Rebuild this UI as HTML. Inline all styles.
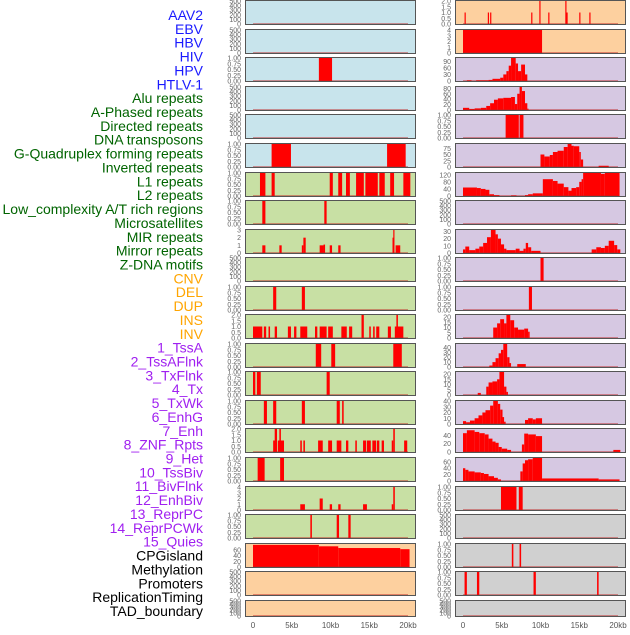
<!DOCTYPE html>
<html><head><meta charset="utf-8">
<style>
body{margin:0;background:#fff;width:630px;height:630px;overflow:hidden;font-family:"Liberation Sans",sans-serif;}
svg text{font-family:"Liberation Sans",sans-serif;}
</style></head>
<body>
<svg id="chart" width="630" height="630" viewBox="0 0 630 630" xmlns="http://www.w3.org/2000/svg"></svg>
<script>
const trackLabels = ["AAV2","EBV","HBV","HIV","HPV","HTLV-1","Alu repeats","A-Phased repeats","Directed repeats","DNA transposons","G-Quadruplex forming repeats","Inverted repeats","L1 repeats","L2 repeats","Low_complexity A/T rich regions","Microsatellites","MIR repeats","Mirror repeats","Z-DNA motifs","CNV","DEL","DUP","INS","INV","1_TssA","2_TssAFlnk","3_TxFlnk","4_Tx","5_TxWk","6_EnhG","7_Enh","8_ZNF_Rpts","9_Het","10_TssBiv","11_BivFlnk","12_EnhBiv","13_ReprPC","14_ReprPCWk","15_Quies","CPGisland","Methylation","Promoters","ReplicationTiming","TAD_boundary"];
const labelColors = [].concat(Array(6).fill("#1a1aff"),Array(13).fill("#006400"),Array(5).fill("#ffa500"),Array(15).fill("#a020f0"),Array(5).fill("#000000"));
const xTicks = [0,5,10,15,20];
const xTickLabels = ["0","5kb","10kb","15kb","20kb"];
const tickSets = {
 E:{max:500,vals:[0,100,200,300,400,500],labs:["0","100","200","300","400","500"]},
 U:{max:1,vals:[0,0.25,0.5,0.75,1],labs:["0.00","0.25","0.50","0.75","1.00"]},
 T:{max:2,vals:[0,0.5,1,1.5,2],labs:["0.0","0.5","1.0","1.5","2.0"]},
 F:{max:4,vals:[0,1,2,3,4],labs:["0","1","2","3","4"]},
 H:{max:3,vals:[0,1,2,3],labs:["0","1","2","3"]}
};
// left column segments [startKb,endKb,value]
const leftSeries = [
 [],[],[[8.5,10.2,1]],[],[],[[2.4,4.9,1],[17.3,19.7,1]],
 [[0.9,1.6,1],[2.4,2.8,1],[9.9,10.3,1],[11,11.5,1],[12,12.5,1],[13.3,14.3,1],[14.5,16.1,1],[16.3,17,1],[17.7,18.2,1],[19.4,20.3,1]],
 [[1.2,1.6,1],[9.2,9.5,1]],
 [[1.2,1.6,1],[3.4,3.7,1],[6.3,6.5,1],[6.5,6.8,2],[8.6,9.1,1],[9.1,9.3,1.1],[9.9,10.2,1],[11,11.3,1],[18,18.2,2],[18.1,18.2,3],[18.4,19,1]],
 [],
 [[2.6,3.0,1],[6.3,6.7,1]],
 [[0,1.2,1],[1.4,1.7,1],[2,2.2,1],[2.8,3.1,1],[4.5,4.9,1],[5.3,5.6,1],[6.1,7,1],[8,8.3,1],[8.6,9.5,1],[9.7,10.3,1],[11.4,12.1,1],[12.4,12.8,1],[14,14.3,2],[15,15.2,1],[15.5,15.7,1],[15.9,16.3,1],[17.4,17.8,1],[18.3,19.4,1],[18.5,18.7,2]],
 [[8.1,8.8,1],[10.1,10.6,1],[18.1,19.2,1]],
 [[0,0.3,1],[0.5,1.0,1],[9.5,9.9,1]],
 [[1.4,1.8,1],[2.6,3.0,1],[6.3,6.7,1],[10.8,11.2,1],[11.5,11.7,1]],
 [[2.6,3.0,1],[2.8,3.1,2],[3.2,4,1],[3.4,3.6,2],[6.1,6.3,1],[6.5,6.7,1],[8.4,9,1],[9.7,10.2,1],[10.8,11.4,1],[12,12.3,1],[13.2,13.4,1],[14.2,14.6,1],[14.7,15.2,1],[15.4,15.9,1],[16,16.3,1],[16.6,16.9,1],[17.9,18.1,1],[18.1,18.3,2],[19.5,19.9,1]],
 [[0.6,1.5,1],[3.5,4.0,1]],
 [[6.1,6.7,1],[8.6,9,2],[9.9,10.2,1],[11,11.3,1],[14.2,14.7,1],[17.9,18.1,1],[18.1,18.3,4]],
 [[7.4,7.6,1],[10.8,11.1,1],[12.3,12.6,1]],
 [[0,8.5,77],[8.5,11,72],[11,19,66],[19,20.2,62]],
 [],[]
];
const leftTicks = ["E","E","U","E","E","U","U","U","H","E","U","T","U","U","U","T","U","F","U",
 {max:80,vals:[0,20,40,60],labs:["0","20","40","60"]},"E","E"];
const leftBg = ["#c8e4ec","#c8e4ec","#c8e4ec","#c8e4ec","#c8e4ec","#c8e4ec","#c8e0a4","#c8e0a4","#c8e0a4","#c8e0a4","#c8e0a4","#c8e0a4","#c8e0a4","#c8e0a4","#c8e0a4","#c8e0a4","#c8e0a4","#c8e0a4","#c8e0a4","#fdd09f","#fdd09f","#fdd09f"];
const rightSeries = [
 [[0.2,0.35,1],[3.2,3.35,1],[3.5,3.65,1],[8.8,8.95,1],[9.85,10.0,2],[11.0,11.15,1],[13.2,13.35,2],[13.35,13.5,1],[15.0,15.15,1],[16.3,16.45,1]],
 [[0,10.2,4]],
 [[0.5,1.1,3],[1.7,3.3,3],[3.3,3.8,5],[3.8,4.8,10],[4.8,5.2,15],[5.2,5.6,30],[5.6,5.9,45],[5.9,6.2,70],[6.2,6.8,105],[6.8,7.1,80],[7.1,7.5,45],[7.5,8.0,75],[8.0,8.3,30]],
 [[0,0.8,8],[0.8,1.5,4],[1.5,2.3,6],[2.3,3.0,8],[3.0,3.5,15],[3.5,4.0,25],[4.0,4.5,38],[4.5,5.2,43],[5.2,6.2,45],[6.2,6.7,48],[6.7,7.0,22],[7.0,7.3,60],[7.3,7.6,85],[7.6,8.0,70],[8.0,8.3,25],[8.3,8.4,5]],
 [[5.5,7.2,1],[7.3,7.8,1]],
 [[10.0,10.5,50],[10.5,11.2,42],[11.2,11.6,48],[11.6,12.2,60],[12.2,13.0,65],[13.0,13.5,80],[13.5,14.0,92],[14.0,14.3,85],[14.3,15.0,83],[15.0,15.2,60],[15.2,15.5,30],[17.5,18.8,5]],
 [[0,1.8,48],[1.8,2.3,45],[2.3,2.9,40],[2.9,3.4,35],[3.4,4.0,10],[4.0,4.7,5],[6.2,6.9,3],[8.0,8.4,5],[8.4,9.0,10],[9.0,10.3,15],[10.3,11.6,95],[11.6,12.2,85],[12.2,13.0,70],[13.0,13.6,50],[13.6,14.0,30],[14.0,14.6,45],[14.6,15.0,50],[15.0,15.3,80],[15.3,15.5,95],[15.5,17.8,130],[17.8,18.3,125],[18.3,20.2,130]],
 [],
 [[0,0.3,5],[0.3,0.8,9],[0.8,1.6,4],[1.6,2.1,6],[2.1,2.6,9],[2.6,3.1,14],[3.1,3.6,22],[3.6,4.2,32],[4.2,4.5,26],[4.5,4.9,20],[4.9,5.3,12],[5.3,5.6,6],[5.6,6.8,4],[6.8,7.3,6],[7.3,7.8,3],[7.8,8.1,6],[8.1,8.4,14],[8.4,8.8,8],[8.8,10.0,3],[16.6,17.2,5],[17.2,17.8,8],[17.8,18.3,7],[18.3,18.8,10],[18.8,19.5,17],[19.5,19.9,11],[19.9,20.3,5]],
 [[10.0,10.4,1]],
 [[8.5,8.9,1]],
 [[3.9,4.4,10],[4.4,4.8,14],[4.8,5.3,18],[5.3,5.6,14],[5.6,6.1,22],[6.1,6.6,17],[6.6,7.1,10],[7.1,7.9,8],[7.9,8.4,9],[8.4,8.6,6]],
 [[3.4,3.8,3],[3.8,4.2,10],[4.2,4.6,18],[4.6,4.9,28],[4.9,5.2,35],[5.2,5.7,47],[5.7,6.0,20],[6.0,6.2,8],[7.0,8.1,6]],
 [[1.9,2.3,2],[3.0,3.3,8],[3.3,3.8,12],[3.8,4.4,13],[4.4,4.7,15],[4.7,5.3,22],[5.3,5.6,8],[5.6,5.8,3]],
 [[0,0.4,5],[0.4,0.9,3],[0.9,1.5,6],[1.5,2.0,10],[2.0,2.5,15],[2.5,2.9,20],[2.9,3.5,24],[3.5,3.9,32],[3.9,4.5,40],[4.5,4.8,35],[4.8,5.1,25],[5.1,5.3,12],[5.3,5.5,4],[8.0,8.4,7],[8.4,9.0,10],[9.0,9.4,8],[9.4,10.2,10]],
 [[0,0.5,45],[0.5,1.5,52],[1.5,2.1,48],[2.1,2.8,45],[2.8,3.3,42],[3.3,3.8,32],[3.8,4.2,25],[4.2,4.6,22],[4.6,5.0,12],[5.0,5.7,8],[5.7,6.2,5],[7.6,7.9,18],[7.9,8.4,44],[8.4,9.4,42],[9.4,10.2,38],[19.4,20.3,5]],
 [[0,0.3,40],[0.3,0.7,35],[0.7,1.5,30],[1.5,2.3,27],[2.3,2.7,25],[2.7,3.3,22],[3.3,4.0,15],[4.0,4.5,10],[4.5,4.9,5],[7.4,7.7,30],[7.7,8.0,55],[8.0,8.4,65],[8.4,9.0,68],[9.0,10.2,72],[10.2,17.5,8],[17.5,20.2,5]],
 [[4.9,6.9,1],[7.2,7.7,1]],
 [],
 [[6.3,6.5,1],[7.3,7.5,1]],
 [[0.2,0.5,1],[1.8,2.1,1],[9.1,9.4,1],[17.3,17.5,1]],
 []
];
const rightTicks = ["T","F",
 {max:105,vals:[0,30,60,90],labs:["0","30","60","90"]},
 {max:85,vals:[0,20,40,60,80],labs:["0","20","40","60","80"]},
 "U",
 {max:92,vals:[0,25,50,75],labs:["0","25","50","75"]},
 {max:130,vals:[0,40,80,120],labs:["0","40","80","120"]},
 "E",
 {max:32,vals:[0,10,20,30],labs:["0","10","20","30"]},
 "U","U",
 {max:22,vals:[0,5,10,15,20],labs:["0","5","10","15","20"]},
 {max:47,vals:[0,10,20,30,40],labs:["0","10","20","30","40"]},
 {max:22,vals:[0,5,10,15,20],labs:["0","5","10","15","20"]},
 {max:40,vals:[0,10,20,30,40],labs:["0","10","20","30","40"]},
 {max:55,vals:[0,20,40],labs:["0","20","40"]},
 {max:72,vals:[0,20,40,60],labs:["0","20","40","60"]},
 "U","E","U","U","E"];
const rightBg = ["#fdd09f","#fdd09f"].concat(Array(15).fill("#d6c8e2"),Array(5).fill("#d0d0d0"));
const rowTops = [0,29,57,86,114,143,172,200,229,257,286,314,343,371,400,428,457,486,514,543,571,600];

const svg = document.getElementById('chart');
const NS = "http://www.w3.org/2000/svg";
function mk(tag, attrs){const e=document.createElementNS(NS,tag);for(const k in attrs)e.setAttribute(k,attrs[k]);return e;}

// track labels
trackLabels.forEach((t,i)=>{
  const el = mk('text',{x:203,y:15+13.86*i+5,'text-anchor':'end','font-size':'14',fill:labelColors[i]});
  el.textContent = t;
  
  
  svg.appendChild(el);
});

function drawPanel(colX, zeroX, row, series, tickSpec, bg){
  const top = rowTops[row];
  const h = row===21 ? 17 : 25;
  const w = 171;
  const xScale = kb => zeroX + kb*7.75;
  const ts = typeof tickSpec === 'string' ? tickSets[tickSpec] : tickSpec;
  const y0 = top + h - 1, y1 = top + 1;
  const yScale = v => y0 - (v/ts.max)*(y0-y1);
  const g = mk('g',{});
  
  
  const bgRect = mk('rect',{x:colX,y:top,width:w,height:h,fill:bg});
  
  
  g.appendChild(bgRect);
  series.forEach(s=>{
    const x0 = xScale(s[0]), x1 = xScale(s[1]);
    const yt = Math.max(yScale(s[2]), top);
    const r = mk('rect',{x:x0,y:yt,width:Math.max(x1-x0,1.2),height:y0-yt+1,fill:'#ff0000'});
    
    
    g.appendChild(r);
  });
  const base = mk('rect',{x:xScale(0),y:y0-1,width:xScale(20)-xScale(0),height:2,fill:'rgba(190,30,30,0.45)'});
  
  
  g.appendChild(base);
  const border = mk('rect',{x:colX+0.5,y:top+0.5,width:w-1,height:h-1,fill:'none',stroke:'#555','stroke-width':1});
  
  
  g.appendChild(border);
  ts.vals.forEach((v,k)=>{
    const t = mk('text',{x:colX-4,y:yScale(v)+2.5,'text-anchor':'end','font-size':'7',fill:'#666'});
    t.textContent = ts.labs[k];
    
    
    g.appendChild(t);
  });
  svg.appendChild(g);
}

for(let r=0;r<22;r++){
  drawPanel(245,253,r,leftSeries[r],leftTicks[r],leftBg[r]);
  drawPanel(455,463,r,rightSeries[r],rightTicks[r],rightBg[r]);
}

[[253],[463]].forEach(z=>{
  xTicks.forEach((v,k)=>{
    const t = mk('text',{x:z[0]+v*7.75,y:628,'text-anchor':'middle','font-size':'8',fill:'#555'});
    t.textContent = xTickLabels[k];
    
    
    svg.appendChild(t);
  });
});
</script>
</body></html>
